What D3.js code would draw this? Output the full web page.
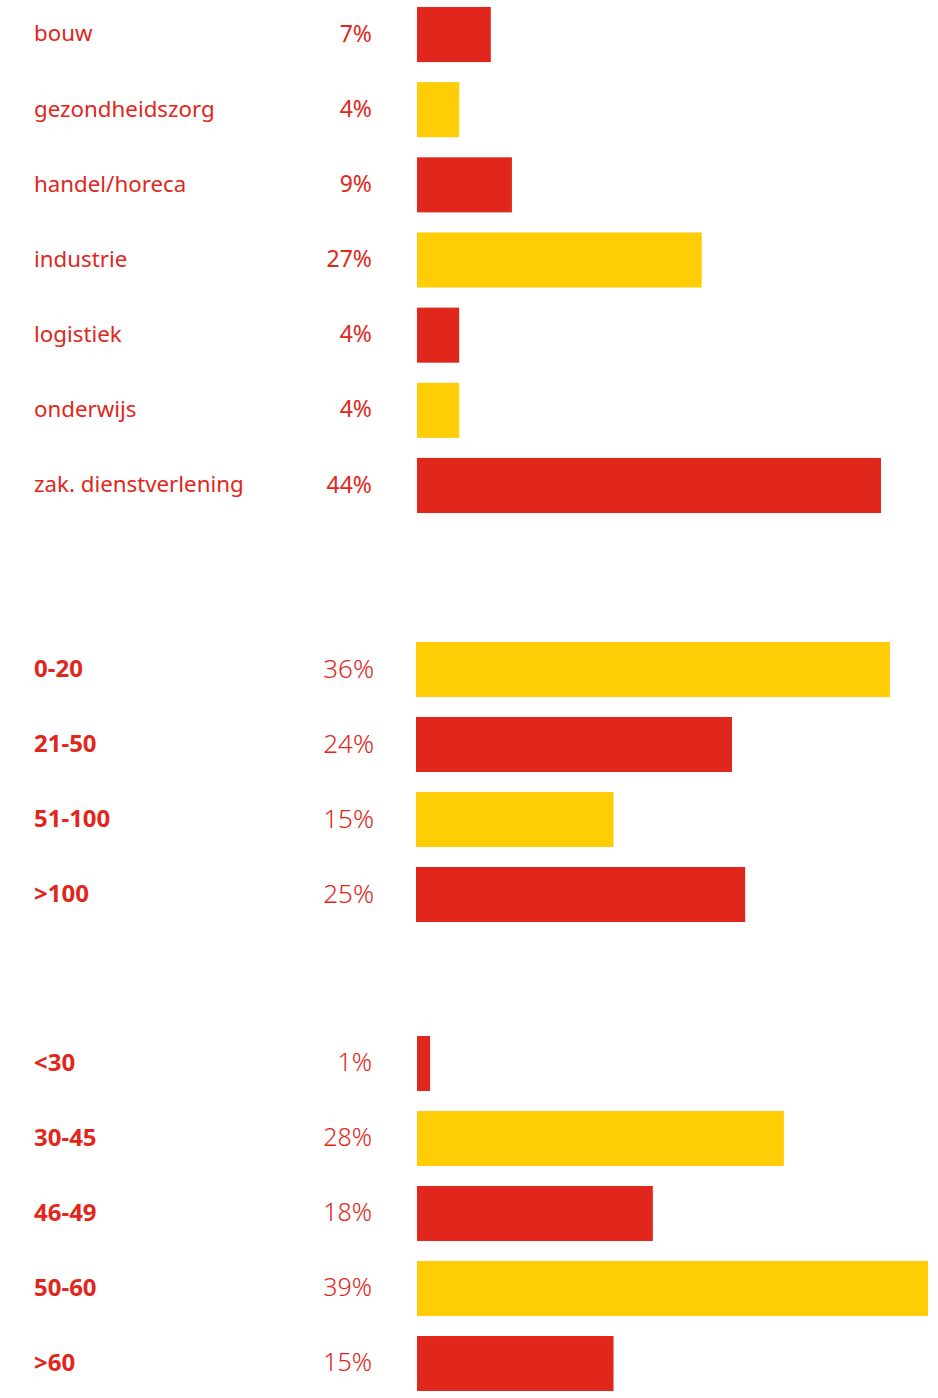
<!DOCTYPE html>
<html>
<head>
<meta charset="utf-8">
<script src="https://cdn.jsdelivr.net/npm/d3@7"></script>
<style>
  html, body { margin: 0; padding: 0; background: #fff; }
  svg text { font-family: "Noto Sans", "Open Sans", sans-serif; fill: #e1261c; }
</style>
</head>
<body>
<div id="chart"></div>
<script>
const sectors = ["bouw", "gezondheidszorg", "handel/horeca", "industrie", "logistiek", "onderwijs", "zak. dienstverlening"];
const sectorValues = [7, 4, 9, 27, 4, 4, 44];

const sizes = ["0-20", "21-50", "51-100", ">100"];
const sizeValues = [36, 24, 15, 25];

const ages = ["<30", "30-45", "46-49", "50-60", ">60"];
const ageValues = [1, 28, 18, 39, 15];

const red = "#e1261c", yellow = "#fecd06";

const width = 938, height = 1398;

const svg = d3.select("#chart")
  .append("svg")
  .attr("width", width)
  .attr("height", height);

// one block of bars per group, each with its own scale
const groups = [
  { cats: sectors, vals: sectorValues, y: [7, 513], max: 44, len: 464, x0: 417, first: red, bold: false, pctSize: 23, pctX: 372, pctWeight: 400 },
  { cats: sizes, vals: sizeValues, y: [642, 922], max: 36, len: 474, x0: 416, first: yellow, bold: true, pctSize: 26, pctX: 374, pctWeight: 300 },
  { cats: ages, vals: ageValues, y: [1036, 1391], max: 39, len: 511, x0: 417, first: red, bold: true, pctSize: 25, pctX: 372, pctWeight: 300 }
];

const labelX = 34;

groups.forEach(grp => {
  const rows = grp.cats.map((c, i) => ({ cat: c, val: grp.vals[i], i }));
  const other = grp.first === red ? yellow : red;

  const y = d3.scaleBand()
    .domain(grp.cats)
    .range(grp.y)
    .paddingInner(0.267)
    .paddingOuter(0);

  const x = d3.scaleLinear()
    .domain([0, grp.max])
    .range([0, grp.len]);

  const g = svg.append("g");

  g.selectAll("rect")
    .data(rows)
    .join("rect")
    .attr("x", grp.x0)
    .attr("y", d => y(d.cat))
    .attr("height", y.bandwidth())
    .attr("width", d => x(d.val))
    .attr("fill", d => d.i % 2 === 0 ? grp.first : other);

  g.selectAll(".lbl")
    .data(rows)
    .join("text")
    .attr("class", "lbl")
    .attr("x", labelX)
    .attr("y", d => y(d.cat) + y.bandwidth() / 2 - 1)
    .attr("dy", "0.35em")
    .style("font-size", grp.bold ? "24px" : "22.3px")
    .style("font-weight", grp.bold ? 700 : 400)
    .text(d => d.cat);

  g.selectAll(".pct")
    .data(rows)
    .join("text")
    .attr("class", "pct")
    .attr("x", grp.pctX)
    .attr("y", d => y(d.cat) + y.bandwidth() / 2 - 1)
    .attr("dy", "0.35em")
    .attr("text-anchor", "end")
    .style("font-size", grp.pctSize + "px")
    .style("font-weight", grp.pctWeight)
    .text(d => d.val + "%");
});
</script>
</body>
</html>
